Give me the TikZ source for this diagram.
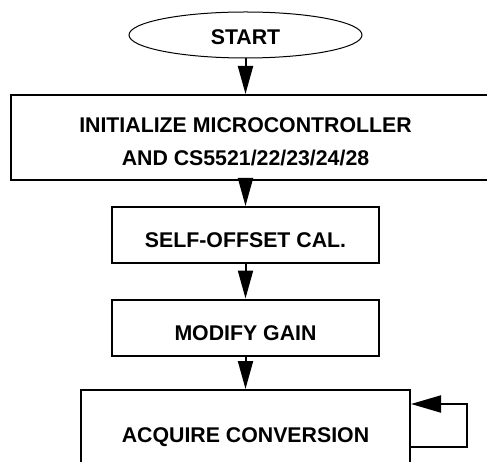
\documentclass[tikz,border=0pt]{standalone}
\usepackage{fontspec}
\setmainfont{Liberation Sans}
\usepackage{tikz}
\usetikzlibrary{shapes.geometric}
\usetikzlibrary{arrows.meta}
\newcommand{\flowfont}{\fontsize{21.3bp}{33bp}\selectfont\bfseries}
\tikzset{
stepbox/.style={draw, line width=2bp, inner sep=0pt, font=\flowfont, text height=25bp, text depth=0pt},
flow/.style={line width=2bp, -{Triangle[length=28bp,width=15bp]}},
}
\begin{document}
\begin{tikzpicture}[x=1bp,y=-1bp]
\def\cx{245.5}
% picture frame (487 x 462)
\useasboundingbox (0,0) rectangle (487,462);
\clip (0,0) rectangle (487,462);
% start terminal
\node[draw, ellipse, line width=1bp, minimum width=233bp, minimum height=46bp, inner sep=0pt, font=\flowfont, text height=19bp, text depth=0pt] (start) at (\cx,35) {START};
% init box runs off the right edge
\node[stepbox, minimum width=489bp, minimum height=85bp] (init) at (255.5,137.5) {};
\node[font=\flowfont, align=center, anchor=north, inner sep=0pt] (initlabel) at (\cx,117.5) {INITIALIZE MICROCONTROLLER\\AND CS5521/22/23/24/28};
% the remaining steps
\node[stepbox, minimum width=267bp, minimum height=56bp] (offset) at (\cx,235) {SELF-OFFSET CAL.};
\node[stepbox, minimum width=267bp, minimum height=56bp] (gain) at (\cx,327.5) {MODIFY GAIN};
\node[stepbox, minimum width=329bp, minimum height=80bp] (acquire) at (\cx,430) {ACQUIRE CONVERSION};
% connectors
\draw[flow] (start) -- (start |- init.north);
\draw[flow] (offset |- init.south) -- (offset);
\draw[flow] (offset) -- (gain);
\draw[flow] (gain) -- (acquire);
% loop back into acquire
\draw[flow, -{Triangle[length=30bp,width=17bp]}] ([yshift=-17bp]acquire.east) -- ++(56,0) |- ([yshift=26bp]acquire.east);
\end{tikzpicture}
\end{document}
